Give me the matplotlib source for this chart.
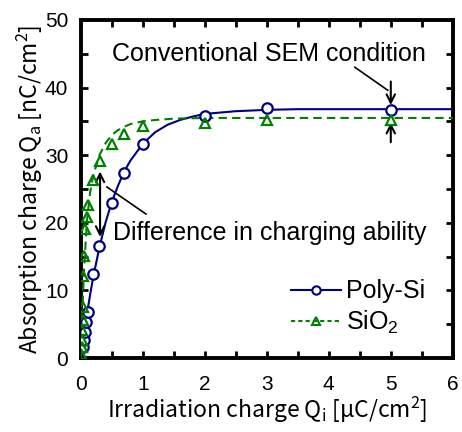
import matplotlib
matplotlib.use("Agg")
import matplotlib.pyplot as plt
from matplotlib.lines import Line2D

# ---- data ----
poly_x = [0.03, 0.05, 0.07, 0.09, 0.11, 0.19, 0.30, 0.50, 0.70, 1.0, 2.0, 3.0, 5.0]
poly_y = [1.7, 2.7, 3.9, 5.3, 6.8, 12.4, 16.6, 22.9, 27.4, 31.7, 35.8, 37.0, 36.7]
poly_fit_x = [0, 0.05, 0.1, 0.15, 0.2, 0.3, 0.4, 0.5, 0.6, 0.7, 0.8, 1.0, 1.2, 1.4,
              1.6, 1.8, 2.0, 2.5, 3.0, 3.5, 6.0]
poly_fit_y = [0, 3.5, 6.6, 9.4, 12.0, 16.4, 20.1, 23.1, 25.5, 27.6, 29.2, 31.7, 33.4,
              34.5, 35.2, 35.7, 36.1, 36.5, 36.7, 36.8, 36.8]

sio2_x = [0.01, 0.015, 0.02, 0.025, 0.03, 0.035, 0.04, 0.05, 0.065, 0.10, 0.12, 0.20,
          0.31, 0.50, 0.70, 1.0, 2.0, 3.0, 5.0]
sio2_y = [0.6, 1.6, 2.7, 4.1, 5.6, 7.6, 12.2, 15.1, 19.1, 20.9, 22.6, 26.4,
          29.2, 31.6, 33.2, 34.3, 34.8, 35.2, 35.2]
sio2_fit_x = [0, 0.03, 0.05, 0.1, 0.15, 0.2, 0.3, 0.4, 0.5, 0.6, 0.7, 0.8, 1.0, 1.2,
              1.5, 2.0, 6.0]
sio2_fit_y = [0, 8.0, 13.0, 20.5, 24.5, 27.0, 30.0, 31.8, 33.0, 33.7, 34.2, 34.6, 35.0,
              35.2, 35.4, 35.5, 35.5]

x_ticks = [0, 1, 2, 3, 4, 5, 6]
y_ticks = [0, 10, 20, 30, 40, 50]

BLUE = "#000080"
GREEN = "#008000"
TXT = "Liberation Sans"
LAB = ["Noto Sans CJK JP", "DejaVu Sans"]

fig = plt.figure(figsize=(4.62, 4.32), dpi=100)
ax = fig.add_axes([0.175, 0.171, 0.805, 0.783])

ax.plot(poly_fit_x, poly_fit_y, color=BLUE, lw=1.5, zorder=3)
ax.plot(sio2_fit_x, sio2_fit_y, color=GREEN, lw=1.5, ls=(0, (4, 2.5)), zorder=3)
ax.plot(poly_x, poly_y, ls="none", marker="o", ms=7.5, mfc="white", mec=BLUE, mew=1.6, zorder=4)
ax.plot(sio2_x, sio2_y, ls="none", marker="^", ms=7.5, mfc="none", mec=GREEN, mew=1.6, zorder=5)

ax.set_xlim(0, 6)
ax.set_ylim(0, 50)
ax.set_xticks(x_ticks)
ax.set_yticks(y_ticks)
ax.set_xticks([i * 0.5 for i in range(13)], minor=True)
ax.set_yticks([i * 5 for i in range(11)], minor=True)
ax.tick_params(which="both", direction="in", top=True, right=True, width=2, length=5)
ax.tick_params(axis="x", labelsize=15, pad=12)
ax.tick_params(axis="y", labelsize=15, pad=9)
for lab in ax.get_xticklabels() + ax.get_yticklabels():
    lab.set_fontfamily(TXT)
for s in ax.spines.values():
    s.set_linewidth(2.8)

ax.set_xlabel("Irradiation charge Q$_\\mathregular{i}$ [μC/cm$^\\mathregular{2}$]",
              fontsize=16.5, family=LAB, labelpad=1)
ax.set_ylabel("Absorption charge Q$_\\mathregular{a}$ [nC/cm$^\\mathregular{2}$]",
              fontsize=16.5, family=LAB, labelpad=0)

# annotations
ax.text(0.5, 45.0, "Conventional SEM condition", fontsize=18, family=TXT, va="center")
ax.plot([4.42, 4.95], [43.0, 39.6], color="black", lw=1.2)
arr = dict(arrowstyle="->", color="black", lw=1.5, mutation_scale=15)
ax.annotate("", xy=(5, 37.0), xytext=(5, 41.3), arrowprops=arr)
ax.annotate("", xy=(5, 35.2), xytext=(5, 31.5), arrowprops=arr)

ax.text(0.52, 18.5, "Difference in charging ability", fontsize=18, family=TXT, va="center")
ax.plot([0.42, 1.05], [25.3, 21.3], color="black", lw=1.2)
ax.annotate("", xy=(0.31, 28.0), xytext=(0.31, 17.5),
            arrowprops=dict(arrowstyle="<->", color="black", lw=1.5, mutation_scale=15))

handles = [
    Line2D([], [], color=BLUE, lw=1.5, marker="o", ms=6, mfc="white", mec=BLUE, mew=1.5),
    Line2D([], [], color=GREEN, lw=1.5, ls=(0, (2, 1.5)), marker="^", ms=6, mfc="none", mec=GREEN, mew=1.5),
]
ax.legend(handles, ["Poly-Si", "SiO$_\\mathregular{2}$"], loc="lower right",
          bbox_to_anchor=(0.985, 0.0), frameon=False, prop={"family": TXT, "size": 18},
          handlelength=2.0, handletextpad=0.2, labelspacing=0.2)

fig.savefig("out.png", dpi=100)
